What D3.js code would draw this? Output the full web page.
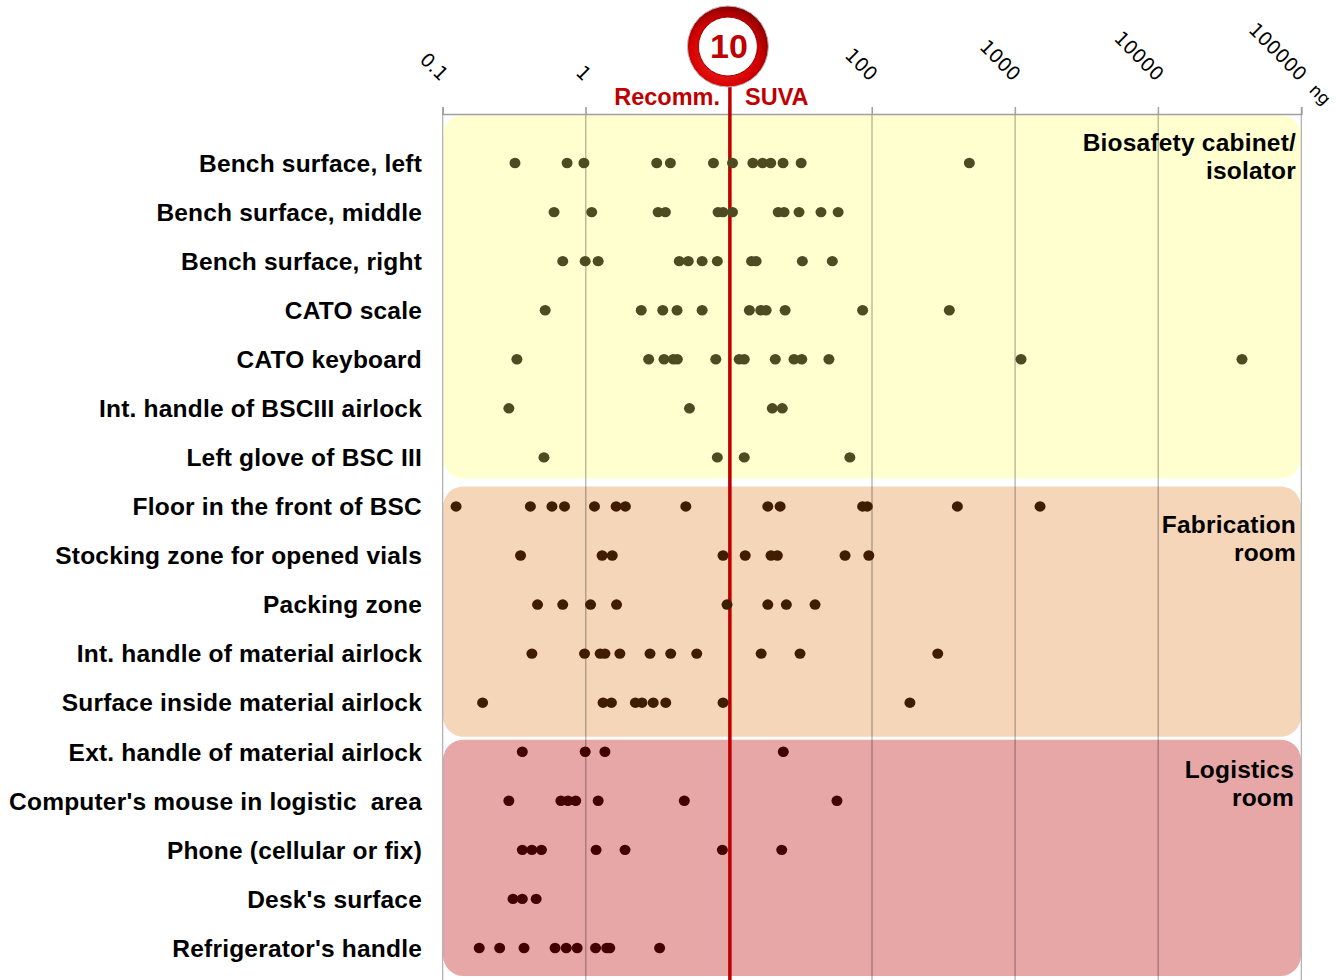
<!DOCTYPE html>
<html>
<head>
<meta charset="utf-8">
<script src="https://cdn.jsdelivr.net/npm/d3@7"></script>
<style>
  body { margin: 0; background: #fff; }
  svg { display: block; }
</style>
</head>
<body>
<div id="chart"></div>
<script>
// surfaces (rows, top to bottom)
const surfaces = [
  "Bench surface, left",
  "Bench surface, middle",
  "Bench surface, right",
  "CATO scale",
  "CATO keyboard",
  "Int. handle of BSCIII airlock",
  "Left glove of BSC III",
  "Floor in the front of BSC",
  "Stocking zone for opened vials",
  "Packing zone",
  "Int. handle of material airlock",
  "Surface inside material airlock",
  "Ext. handle of material airlock",
  "Computer's mouse in logistic  area",
  "Phone (cellular or fix)",
  "Desk's surface",
  "Refrigerator's handle"
];

const amounts = [
  [0.32, 0.74, 0.97, 3.13, 3.9, 7.8, 10.6, 14.7, 17.2, 19.6, 23.9, 32, 479],
  [0.6, 1.1, 3.2, 3.6, 8.4, 9.1, 10.6, 22.1, 24.3, 30.9, 44, 58],
  [0.69, 0.99, 1.22, 4.5, 5.2, 6.5, 8.3, 14.4, 15.5, 32.6, 52.8],
  [0.52, 2.44, 3.45, 4.34, 6.5, 13.9, 16.7, 18.2, 24.7, 86, 347],
  [0.33, 2.75, 3.52, 4.09, 4.36, 8.1, 11.8, 12.8, 21.1, 28.5, 32.3, 50, 1100, 38500],
  [0.29, 5.3, 20.1, 23.6],
  [0.51, 8.3, 12.8, 70],
  [0.124, 0.41, 0.58, 0.71, 1.15, 1.63, 1.89, 5.0, 18.7, 22.8, 86, 92.7, 395, 1494],
  [0.35, 1.3, 1.53, 9.1, 13.0, 19.7, 21.8, 64.8, 95],
  [0.46, 0.69, 1.08, 1.64, 9.7, 18.7, 25.2, 40],
  [0.42, 0.98, 1.26, 1.36, 1.73, 2.81, 3.92, 5.96, 16.8, 31.4, 288],
  [0.19, 1.32, 1.51, 2.22, 2.47, 2.96, 3.62, 9.1, 184],
  [0.36, 0.99, 1.36, 24],
  [0.29, 0.67, 0.75, 0.85, 1.22, 4.88, 56.9],
  [0.36, 0.42, 0.49, 1.18, 1.88, 9.0, 23.4],
  [0.31, 0.36, 0.45],
  [0.18, 0.25, 0.37, 0.61, 0.73, 0.87, 1.17, 1.4, 1.47, 3.28]
];

// rooms: name lines, first and last row
const roomNames = [["Biosafety cabinet/", "isolator"], ["Fabrication", "room"], ["Logistics", "room"]];
const roomRows = [[0, 6], [7, 11], [12, 16]];
const roomFill = ["#ffffd0", "#f5d6b9", "#e7a7a7"];
const roomDot = ["#4e4a22", "#3e1d00", "#420000"];

const tickValues = [0.1, 1, 10, 100, 1000, 10000, 100000];
const tickLabels = ["0.1", "1", "", "100", "1000", "10000", "100000"];
const unitLabel = "ng";
const limitValue = 10;
const limitLabels = ["Recomm.", "SUVA"];

const width = 1336;
const height = 980;
const labelFont = "'Liberation Sans', Arial, sans-serif";
const tickFont = "'DejaVu Sans', sans-serif";

const svg = d3.select("#chart").append("svg")
  .attr("width", width)
  .attr("height", height);

const x = d3.scaleLog()
  .domain([0.1, 100000])
  .range([442.7, 1301.3]);

const y = d3.scaleBand()
  .domain(surfaces)
  .range([138.5, 972.5]);

const yc = (i) => y(surfaces[i]) + y.bandwidth() / 2;

// room boxes (padding above / below first and last rows)
const boxPad = [[48, 21], [20, 34], [12, 28]];
roomRows.forEach((r, g) => {
  const top = yc(r[0]) - boxPad[g][0];
  const bottom = yc(r[1]) + boxPad[g][1];
  svg.append("rect")
    .attr("x", x(0.1) + 0.5)
    .attr("y", top)
    .attr("width", x(100000) - x(0.1) - 1)
    .attr("height", bottom - top)
    .attr("rx", 20)
    .attr("fill", roomFill[g]);
});

// vertical grid
svg.append("g")
  .selectAll("line")
  .data(tickValues)
  .join("line")
  .attr("x1", d => x(d))
  .attr("x2", d => x(d))
  .attr("y1", 107)
  .attr("y2", height)
  .attr("stroke", "#000")
  .attr("stroke-opacity", 0.33)
  .attr("stroke-width", 1.2);

// top axis
const axis = svg.append("g")
  .attr("transform", "translate(0,114)")
  .call(d3.axisTop(x).tickValues(tickValues).tickSize(7).tickFormat((d, i) => tickLabels[i]));
axis.select(".domain").attr("stroke", "#a0a0a0").attr("stroke-width", 1.5);
axis.selectAll(".tick line").attr("stroke", "#a0a0a0");
axis.selectAll(".tick text")
  .attr("font-family", tickFont)
  .attr("font-size", 19)
  .attr("fill", "#000")
  .attr("text-anchor", "end")
  .attr("x", 0)
  .attr("y", 0)
  .attr("dy", 0)
  .attr("transform", "translate(-3,-32) rotate(45)");

svg.append("text")
  .attr("transform", `translate(${x(100000) + 7},${91}) rotate(45)`)
  .attr("font-family", tickFont)
  .attr("font-size", 17)
  .text(unitLabel);

// row labels
svg.append("g")
  .selectAll("text")
  .data(surfaces)
  .join("text")
  .attr("x", 422)
  .attr("y", (d, i) => yc(i))
  .attr("dy", "0.36em")
  .attr("text-anchor", "end")
  .attr("font-family", labelFont)
  .attr("font-weight", "bold")
  .attr("font-size", 24.5)
  .attr("letter-spacing", 0.2)
  .style("white-space", "pre")
  .text(d => d);

// room labels
const roomBase = [150.7, 532.7, 778.3];
const roomRight = [1296, 1296, 1294];
roomNames.forEach((lines, g) => {
  const t = svg.append("text")
    .attr("text-anchor", "end")
    .attr("font-family", labelFont)
    .attr("font-weight", "bold")
    .attr("font-size", 24.5)
    .attr("letter-spacing", 0.2);
  lines.forEach((s, k) => {
    t.append("tspan")
      .attr("x", roomRight[g])
      .attr("y", roomBase[g] + k * 28)
      .text(s);
  });
});

// limit line
const xl = x(limitValue) + 1;
svg.append("line")
  .attr("x1", xl).attr("x2", xl)
  .attr("y1", 84).attr("y2", height)
  .attr("stroke", "#c00000")
  .attr("stroke-width", 3.5);

// dots
const dots = [];
amounts.forEach((vals, i) => {
  const g = roomRows.findIndex(r => i >= r[0] && i <= r[1]);
  vals.forEach(v => dots.push({ v, i, g }));
});
svg.append("g")
  .selectAll("ellipse")
  .data(dots)
  .join("ellipse")
  .attr("cx", d => x(d.v))
  .attr("cy", d => yc(d.i))
  .attr("rx", 5.5)
  .attr("ry", 5.2)
  .attr("fill", d => roomDot[d.g]);

// badge
const defs = svg.append("defs");
const grad = defs.append("radialGradient")
  .attr("id", "ring")
  .attr("cx", "45%").attr("cy", "60%").attr("r", "60%");
grad.append("stop").attr("offset", "0%").attr("stop-color", "#ff3030");
grad.append("stop").attr("offset", "70%").attr("stop-color", "#d40000");
grad.append("stop").attr("offset", "100%").attr("stop-color", "#8a0000");

const bx = x(limitValue) - 1;
const by = 46.5;
svg.append("circle")
  .attr("cx", bx).attr("cy", by).attr("r", 40.5)
  .attr("fill", "url(#ring)")
  .attr("stroke", "#bbb")
  .attr("stroke-width", 1);
svg.append("circle")
  .attr("cx", bx).attr("cy", by).attr("r", 29.5)
  .attr("fill", "#fff")
  .attr("stroke", "#900")
  .attr("stroke-width", 1);
svg.append("text")
  .attr("x", bx + 1).attr("y", by)
  .attr("dy", "0.35em")
  .attr("text-anchor", "middle")
  .attr("font-family", labelFont)
  .attr("font-weight", "bold")
  .attr("font-size", 34)
  .attr("fill", "#c00000")
  .text(limitValue);

svg.append("text")
  .attr("x", 720).attr("y", 105)
  .attr("text-anchor", "end")
  .attr("font-family", labelFont)
  .attr("font-weight", "bold")
  .attr("font-size", 23.5)
  .attr("fill", "#c00000")
  .text(limitLabels[0]);
svg.append("text")
  .attr("x", 745).attr("y", 105)
  .attr("font-family", labelFont)
  .attr("font-weight", "bold")
  .attr("font-size", 23.5)
  .attr("fill", "#c00000")
  .text(limitLabels[1]);
</script>
</body>
</html>
